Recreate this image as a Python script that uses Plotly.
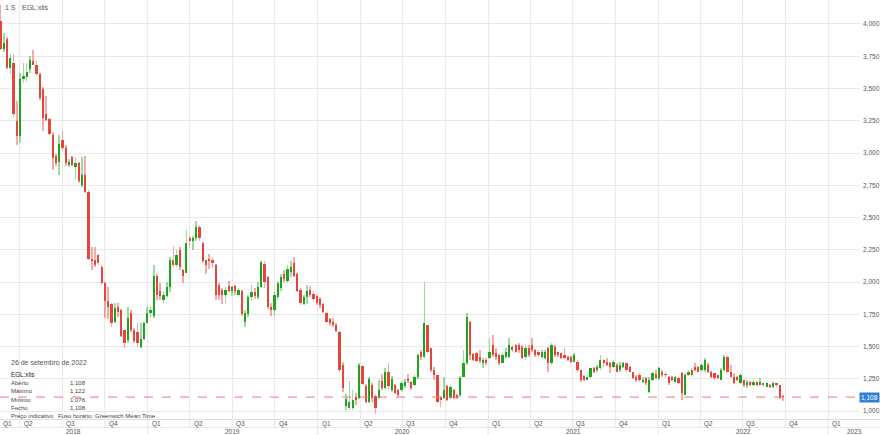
import pandas as pd
import plotly.graph_objects as go

# ---------------- data (weekly candles, EGL:xlis) ----------------
first_week = "2018-02-19"

open_ = [4.02, 3.81, 3.88, 3.66, 3.70, 3.25, 3.13, 3.57, 3.59, 3.65,
         3.71, 3.685, 3.61, 3.50, 3.30, 3.26, 3.14, 2.98, 2.93, 3.10,
         3.04, 2.91, 2.97, 2.89, 2.92, 2.75, 2.83, 2.70, 2.18, 2.17,
         2.21, 2.12, 1.99, 1.85, 1.83, 1.69, 1.81, 1.78, 1.63, 1.55,
         1.76, 1.63, 1.615, 1.50, 1.56, 1.68, 1.76, 1.74, 2.05, 1.93,
         1.86, 1.89, 1.96, 2.17, 2.13, 2.25, 2.09, 2.07, 2.34, 2.32,
         2.34, 2.43, 2.30, 2.17, 2.18, 2.17, 2.13, 1.98, 1.94, 1.90,
         1.97, 1.93, 1.97, 1.90, 1.93, 1.69, 1.75, 1.88, 1.92, 1.88,
         1.96, 2.14, 2.04, 1.81, 1.78, 1.88, 1.95, 2.06, 2.01, 2.08,
         2.15, 2.06, 1.94, 1.83, 1.88, 1.94, 1.91, 1.89, 1.87, 1.83,
         1.76, 1.71, 1.69, 1.67, 1.61, 1.36, 1.04, 1.02, 1.02, 1.11,
         1.10, 1.35, 1.19, 1.07, 1.20, 1.12, 1.10, 1.23, 1.18, 1.305,
         1.165, 1.20, 1.165, 1.165, 1.19, 1.25, 1.227, 1.20, 1.265, 1.46,
         1.42, 1.667, 1.485, 1.32, 1.28, 1.11, 1.098, 1.19, 1.098, 1.163,
         1.124, 1.124, 1.266, 1.37, 1.692, 1.44, 1.45, 1.42, 1.37, 1.395,
         1.408, 1.512, 1.447, 1.434, 1.37, 1.421, 1.421, 1.50, 1.512, 1.512,
         1.50, 1.421, 1.486, 1.512, 1.473, 1.46, 1.421, 1.41, 1.486, 1.37,
         1.50, 1.46, 1.447, 1.434, 1.421, 1.421, 1.382, 1.382, 1.318, 1.27,
         1.24, 1.266, 1.331, 1.318, 1.331, 1.395, 1.38, 1.37, 1.344, 1.357,
         1.318, 1.344, 1.37, 1.344, 1.305, 1.266, 1.279, 1.227, 1.253, 1.15,
         1.24, 1.29, 1.253, 1.305, 1.29, 1.266, 1.266, 1.227, 1.253, 1.292,
         1.124, 1.279, 1.318, 1.344, 1.344, 1.318, 1.318, 1.357, 1.305, 1.292,
         1.279, 1.24, 1.318, 1.421, 1.305, 1.266, 1.266, 1.214, 1.24, 1.202,
         1.227, 1.202, 1.227, 1.202, 1.214, 1.189, 1.202, 1.189, 1.214, 1.202,
         1.108]

high = [4.15, 3.93, 3.90, 3.77, 3.77, 3.40, 3.62, 3.70, 3.70, 3.75,
        3.80, 3.71, 3.62, 3.51, 3.44, 3.27, 3.16, 2.99, 3.14, 3.17,
        3.06, 2.95, 2.98, 2.97, 2.93, 2.97, 2.98, 2.71, 2.27, 2.27,
        2.22, 2.13, 2.00, 1.96, 1.84, 1.835, 1.835, 1.79, 1.63, 1.81,
        1.78, 1.64, 1.68, 1.68, 1.69, 1.81, 1.81, 2.13, 2.06, 1.99,
        1.93, 2.00, 2.19, 2.28, 2.25, 2.27, 2.10, 2.40, 2.36, 2.36,
        2.47, 2.44, 2.31, 2.17, 2.22, 2.19, 2.14, 1.99, 1.95, 1.96,
        2.01, 1.97, 1.98, 1.95, 1.94, 1.78, 1.90, 1.98, 1.95, 2.00,
        2.17, 2.16, 2.05, 1.84, 1.92, 2.01, 2.06, 2.09, 2.13, 2.16,
        2.19, 2.07, 1.95, 1.90, 1.98, 1.97, 1.93, 1.90, 1.88, 1.84,
        1.77, 1.72, 1.72, 1.68, 1.62, 1.38, 1.13, 1.23, 1.16, 1.14,
        1.37, 1.36, 1.21, 1.26, 1.22, 1.13, 1.24, 1.29, 1.33, 1.37,
        1.27, 1.21, 1.17, 1.23, 1.25, 1.29, 1.23, 1.28, 1.44, 1.47,
        2.003, 1.67, 1.49, 1.34, 1.28, 1.12, 1.266, 1.20, 1.20, 1.17,
        1.13, 1.27, 1.473, 1.757, 1.70, 1.45, 1.46, 1.47, 1.41, 1.41,
        1.563, 1.59, 1.486, 1.44, 1.447, 1.486, 1.563, 1.512, 1.52, 1.525,
        1.51, 1.512, 1.512, 1.563, 1.48, 1.47, 1.473, 1.47, 1.50, 1.525,
        1.512, 1.46, 1.45, 1.486, 1.43, 1.43, 1.447, 1.395, 1.318, 1.28,
        1.28, 1.331, 1.344, 1.357, 1.434, 1.40, 1.408, 1.38, 1.395, 1.37,
        1.382, 1.382, 1.37, 1.35, 1.305, 1.28, 1.292, 1.266, 1.26, 1.266,
        1.305, 1.318, 1.344, 1.318, 1.305, 1.27, 1.27, 1.27, 1.26, 1.30,
        1.292, 1.318, 1.331, 1.37, 1.35, 1.37, 1.408, 1.37, 1.31, 1.292,
        1.28, 1.331, 1.434, 1.43, 1.357, 1.292, 1.27, 1.292, 1.24, 1.24,
        1.23, 1.24, 1.23, 1.253, 1.22, 1.227, 1.21, 1.227, 1.214, 1.205,
        1.122]

low = [3.80, 3.78, 3.65, 3.61, 3.28, 3.06, 3.08, 3.54, 3.55, 3.62,
       3.68, 3.60, 3.41, 3.17, 3.25, 3.14, 2.87, 2.90, 2.83, 3.02,
       2.90, 2.89, 2.90, 2.80, 2.77, 2.74, 2.69, 2.17, 2.09, 2.12,
       2.13, 1.98, 1.72, 1.71, 1.65, 1.68, 1.73, 1.57, 1.49, 1.525,
       1.61, 1.53, 1.50, 1.49, 1.55, 1.68, 1.73, 1.72, 1.86, 1.86,
       1.84, 1.88, 1.92, 2.12, 2.12, 2.09, 1.99, 2.07, 2.27, 2.25,
       2.32, 2.32, 2.15, 2.06, 2.10, 2.11, 1.86, 1.86, 1.83, 1.84,
       1.92, 1.89, 1.90, 1.88, 1.74, 1.65, 1.73, 1.85, 1.87, 1.87,
       1.95, 1.95, 1.79, 1.74, 1.74, 1.86, 1.93, 2.00, 1.99, 2.04,
       2.04, 1.92, 1.82, 1.82, 1.83, 1.88, 1.85, 1.82, 1.80, 1.76,
       1.68, 1.66, 1.65, 1.61, 1.30, 1.15, 1.01, 1.01, 1.01, 1.05,
       1.09, 1.20, 1.06, 1.06, 1.07, 0.975, 1.09, 1.16, 1.17, 1.17,
       1.15, 1.13, 1.11, 1.15, 1.18, 1.22, 1.16, 1.19, 1.25, 1.395,
       1.41, 1.45, 1.305, 1.24, 1.06, 1.034, 1.09, 1.08, 1.09, 1.09,
       1.09, 1.11, 1.26, 1.36, 1.395, 1.39, 1.38, 1.37, 1.33, 1.357,
       1.40, 1.42, 1.395, 1.36, 1.37, 1.408, 1.41, 1.46, 1.45, 1.447,
       1.40, 1.395, 1.42, 1.46, 1.42, 1.42, 1.408, 1.40, 1.305, 1.357,
       1.421, 1.421, 1.40, 1.40, 1.39, 1.37, 1.38, 1.305, 1.227, 1.23,
       1.24, 1.253, 1.292, 1.305, 1.318, 1.344, 1.35, 1.292, 1.331, 1.305,
       1.305, 1.331, 1.305, 1.30, 1.25, 1.227, 1.227, 1.214, 1.20, 1.137,
       1.23, 1.25, 1.24, 1.266, 1.266, 1.20, 1.235, 1.214, 1.21, 1.085,
       1.124, 1.27, 1.266, 1.31, 1.30, 1.305, 1.305, 1.292, 1.253, 1.24,
       1.25, 1.24, 1.31, 1.30, 1.26, 1.21, 1.23, 1.21, 1.189, 1.176,
       1.19, 1.19, 1.195, 1.20, 1.19, 1.189, 1.18, 1.176, 1.189, 1.09,
       1.076]

close = [3.81, 3.85, 3.66, 3.74, 3.30, 3.13, 3.57, 3.60, 3.63, 3.72,
         3.685, 3.61, 3.43, 3.27, 3.256, 3.145, 2.96, 2.92, 3.07, 3.04,
         2.92, 2.93, 2.91, 2.92, 2.78, 2.83, 2.70, 2.18, 2.16, 2.13,
         2.145, 1.99, 1.85, 1.81, 1.68, 1.80, 1.77, 1.58, 1.525, 1.72,
         1.63, 1.54, 1.525, 1.56, 1.68, 1.76, 1.78, 2.05, 1.90, 1.89,
         1.90, 1.96, 2.17, 2.13, 2.21, 2.12, 2.05, 2.30, 2.32, 2.34,
         2.43, 2.34, 2.16, 2.13, 2.16, 2.15, 1.90, 1.90, 1.90, 1.94,
         1.93, 1.96, 1.93, 1.94, 1.75, 1.76, 1.88, 1.92, 1.89, 1.96,
         2.155, 2.00, 1.81, 1.78, 1.90, 1.99, 2.04, 2.02, 2.10, 2.12,
         2.05, 1.93, 1.84, 1.88, 1.93, 1.90, 1.87, 1.84, 1.82, 1.77,
         1.69, 1.68, 1.67, 1.62, 1.32, 1.18, 1.09, 1.07, 1.085, 1.085,
         1.357, 1.21, 1.07, 1.25, 1.10, 1.02, 1.165, 1.18, 1.305, 1.19,
         1.25, 1.14, 1.125, 1.215, 1.225, 1.23, 1.176, 1.265, 1.434, 1.42,
         1.68, 1.46, 1.318, 1.28, 1.072, 1.085, 1.163, 1.085, 1.189, 1.098,
         1.098, 1.253, 1.37, 1.731, 1.434, 1.395, 1.39, 1.39, 1.395, 1.37,
         1.46, 1.434, 1.421, 1.37, 1.434, 1.46, 1.512, 1.473, 1.46, 1.473,
         1.408, 1.486, 1.434, 1.473, 1.434, 1.434, 1.46, 1.46, 1.37, 1.512,
         1.434, 1.434, 1.408, 1.408, 1.395, 1.382, 1.434, 1.318, 1.240, 1.24,
         1.266, 1.331, 1.305, 1.344, 1.395, 1.37, 1.357, 1.344, 1.382, 1.305,
         1.357, 1.37, 1.318, 1.305, 1.253, 1.240, 1.240, 1.240, 1.214, 1.24,
         1.292, 1.253, 1.331, 1.279, 1.28, 1.214, 1.24, 1.266, 1.214, 1.137,
         1.279, 1.305, 1.279, 1.318, 1.305, 1.357, 1.395, 1.305, 1.266, 1.253,
         1.253, 1.318, 1.421, 1.305, 1.266, 1.214, 1.24, 1.279, 1.202, 1.227,
         1.202, 1.227, 1.202, 1.227, 1.202, 1.214, 1.189, 1.214, 1.20, 1.10,
         1.108]

last_price = 1.108
y_ticks = [1.0, 1.25, 1.5, 1.75, 2.0, 2.25, 2.5, 2.75, 3.0, 3.25, 3.5, 3.75, 4.0]
y_tick_labels = ["1,000", "1,250", "1,500", "1,750", "2,000", "2,250", "2,500",
                 "2,750", "3,000", "3,250", "3,500", "3,750", "4,000"]
quarter_starts = ["2018-04-01", "2018-07-01", "2018-10-01", "2019-01-01", "2019-04-01",
                  "2019-07-01", "2019-10-01", "2020-01-01", "2020-04-01", "2020-07-01",
                  "2020-10-01", "2021-01-01", "2021-04-01", "2021-07-01", "2021-10-01",
                  "2022-01-01", "2022-04-01", "2022-07-01", "2022-10-01", "2023-01-01"]
quarter_labels = ["Q2", "Q3", "Q4", "Q1", "Q2", "Q3", "Q4", "Q1", "Q2", "Q3",
                  "Q4", "Q1", "Q2", "Q3", "Q4", "Q1", "Q2", "Q3", "Q4", "Q1"]
years = ["2018", "2019", "2020", "2021", "2022", "2023"]

info_title = "26 de setembro de 2022"
info_symbol = "EGL:xlis"
info_rows = [("Aberto", "1,108"), ("Máximo", "1,122"), ("Mínimo", "1,076"), ("Fecho", "1,108")]

# ---------------- build ----------------
dates = pd.date_range(first_week, periods=len(open_), freq="7D")
x_start = pd.Timestamp("2018-02-17 19:00")
x_end = pd.Timestamp("2023-03-10 12:00")

RED = "#e6453b"
RED_L = "rgba(230,69,59,0.45)"
GRN = "#1ca41c"
GRN_L = "rgba(28,164,28,0.42)"
up = [c > o for o, c in zip(open_, close)]
day = 86400000

fig = go.Figure()
fig.add_trace(go.Bar(
    x=dates, base=low, y=[h - l for h, l in zip(high, low)],
    width=day * 3.6, marker=dict(color=[GRN_L if u else RED_L for u in up], line_width=0),
    hoverinfo="skip", showlegend=False))
fig.add_trace(go.Bar(
    x=dates, base=[min(o, c) for o, c in zip(open_, close)],
    y=[max(abs(c - o), 0.007) for o, c in zip(open_, close)],
    width=day * 4.8, marker=dict(color=[GRN if u else RED for u in up], line_width=0),
    hoverinfo="skip", showlegend=False))

FONT = "Liberation Sans, Arial, sans-serif"
H_PLOT = 419.0
W_PLOT = 860.0


def py(p):
    return 1 - p / H_PLOT


def px(p):
    return p / W_PLOT


ann = []
# top-left header
ann.append(dict(x=px(3), y=py(7), xref="paper", yref="paper", text="1 S", showarrow=False,
                xanchor="left", yanchor="middle", font=dict(size=7, color="#555", family=FONT)))
ann.append(dict(x=px(20), y=py(7), xref="paper", yref="paper", text="EGL:xlis", showarrow=False,
                xanchor="left", yanchor="middle", font=dict(size=7, color="#555", family=FONT)))

# quarter labels
ann.append(dict(x=0, y=py(424), xref="paper", yref="paper", text="Q1", showarrow=False,
                xanchor="left", yanchor="middle", xshift=1, font=dict(size=6.5, color="#555", family=FONT)))
for d, t in zip(quarter_starts, quarter_labels):
    ann.append(dict(x=d, y=py(424), xref="x", yref="paper", text=t, showarrow=False,
                    xanchor="left", yanchor="middle", xshift=2, font=dict(size=6.5, color="#555", family=FONT)))

# year labels, centred on visible part of each year
axis_right = x_end + (x_end - x_start) * (20 / W_PLOT)
for yv in years:
    a = max(pd.Timestamp(f"{yv}-01-01"), x_start)
    b = min(pd.Timestamp(f"{int(yv) + 1}-01-01"), axis_right)
    mid = a + (b - a) / 2
    ann.append(dict(x=mid, y=py(431.5), xref="x", yref="paper", text=yv, showarrow=False,
                    xanchor="center", yanchor="middle", font=dict(size=6.5, color="#555", family=FONT)))

# info box
ann.append(dict(x=px(9), y=py(362), xref="paper", yref="paper", text=info_title, showarrow=False,
                xanchor="left", yanchor="middle", font=dict(size=7, color="#555", family=FONT)))
ann.append(dict(x=px(9), y=py(374), xref="paper", yref="paper", text=info_symbol, showarrow=False,
                xanchor="left", yanchor="middle", font=dict(size=6.3, color="#222", family=FONT)))
for k, (lab, val) in enumerate(info_rows):
    yy = py(383 + 8.3 * k)
    ann.append(dict(x=px(9), y=yy, xref="paper", yref="paper", text=lab, showarrow=False,
                    xanchor="left", yanchor="middle", font=dict(size=6, color="#444", family=FONT)))
    ann.append(dict(x=px(68), y=yy, xref="paper", yref="paper", text=val, showarrow=False,
                    xanchor="left", yanchor="middle", font=dict(size=6, color="#444", family=FONT)))
ann.append(dict(x=px(9), y=py(416), xref="paper", yref="paper", text="Preço indicativo", showarrow=False,
                xanchor="left", yanchor="middle", font=dict(size=6, color="#444", family=FONT)))
ann.append(dict(x=px(56), y=py(416), xref="paper", yref="paper",
                text="Fuso horário: Greenwich Mean Time", showarrow=False,
                xanchor="left", yanchor="middle", font=dict(size=6, color="#444", family=FONT)))

# last price tag
ann.append(dict(x=1, y=last_price, xref="paper", yref="y", text="1,108", showarrow=False,
                xanchor="left", yanchor="middle", xshift=-1, bgcolor="#2f7fd8", borderpad=1,
                font=dict(size=6.5, color="white", family=FONT)))

shapes = []
# info box backdrop
shapes.append(dict(type="rect", xref="paper", yref="paper", x0=0, x1=px(152), y0=py(418), y1=py(354),
                   fillcolor="rgba(255,255,255,0.85)", line_width=0, layer="between"))
# last price dashed line
shapes.append(dict(type="line", xref="paper", yref="y", x0=0, x1=1, y0=last_price, y1=last_price,
                   line=dict(color="#ef7b7b", width=1, dash="dash"), layer="above"))
# bottom axis lines
right_ext = 880 / W_PLOT
shapes.append(dict(type="line", xref="paper", yref="paper", x0=0, x1=right_ext, y0=py(419.5), y1=py(419.5),
                   line=dict(color="#dddddd", width=1)))
shapes.append(dict(type="line", xref="paper", yref="paper", x0=0, x1=right_ext, y0=py(427.5), y1=py(427.5),
                   line=dict(color="#e6e6e6", width=1)))
for d in quarter_starts:
    shapes.append(dict(type="line", xref="x", yref="paper", x0=d, x1=d, y0=py(419), y1=py(427.5),
                       line=dict(color="#e6e6e6", width=1)))
for yv in years:
    d = f"{yv}-01-01"
    if pd.Timestamp(d) > x_start:
        shapes.append(dict(type="line", xref="x", yref="paper", x0=d, x1=d, y0=py(427.5), y1=py(435),
                           line=dict(color="#e6e6e6", width=1)))

fig.update_layout(
    width=880, height=435,
    margin=dict(l=0, r=20, t=0, b=16, autoexpand=False),
    paper_bgcolor="white", plot_bgcolor="white",
    barmode="overlay", bargap=0,
    showlegend=False,
    font=dict(family=FONT, size=7, color="#555"),
    xaxis=dict(type="date", range=[x_start, x_end], tickvals=quarter_starts, showticklabels=False,
               showgrid=True, gridcolor="#e9e9e9", gridwidth=1, zeroline=False, showline=False,
               ticks="", fixedrange=True),
    yaxis=dict(side="right", range=[0.938, 4.186], tickvals=y_ticks, ticktext=y_tick_labels,
               showgrid=True, gridcolor="#e9e9e9", gridwidth=1, zeroline=False, showline=False,
               ticks="", tickfont=dict(size=6.5, color="#555", family=FONT), automargin=False,
               ticklabelstandoff=2, fixedrange=True),
    annotations=ann,
    shapes=shapes,
)

fig.write_html("out.html", config={"displayModeBar": False, "staticPlot": True},
               post_script="document.body.style.margin='0';document.body.style.overflow='hidden';")
